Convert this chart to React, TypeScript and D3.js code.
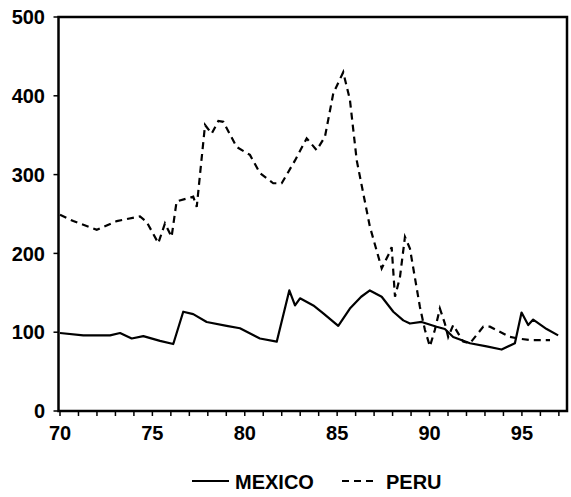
import * as d3 from "d3";

// series (year, index value)
const mexicoYears = [70.0, 71.26, 72.71, 73.25, 73.88, 74.51, 75.41, 76.13, 76.67, 77.21, 77.94, 79.02, 79.74, 80.82, 81.73, 82.41, 82.72, 82.99, 83.71, 84.25, 85.06, 85.69, 86.3, 86.77, 87.41, 88.04, 88.58, 88.94, 89.57, 90.38, 90.83, 91.28, 92.19, 93.09, 93.9, 94.62, 94.98, 95.34, 95.61, 96.34, 96.96];
const mexicoValues = [99, 96, 96, 99, 92, 95, 89, 85, 126, 123, 113, 108, 105, 92, 88, 153, 134, 143, 134, 124, 108, 130, 145, 153, 145, 126, 115, 111, 113, 107, 104, 94, 86, 82, 78, 86, 125, 109, 116, 104, 96];

const peruYears = [70.0, 70.72, 71.99, 73.07, 74.33, 74.69, 75.32, 75.68, 76.04, 76.31, 77.21, 77.4, 77.85, 78.21, 78.57, 78.84, 79.56, 80.28, 80.82, 81.54, 82.0, 82.72, 83.35, 83.89, 84.34, 84.79, 85.33, 85.69, 86.06, 86.77, 87.41, 87.77, 87.95, 88.13, 88.4, 88.67, 88.94, 89.48, 89.75, 90.02, 90.29, 90.56, 90.83, 91.01, 91.28, 91.82, 92.19, 92.91, 93.27, 94.35, 94.8, 95.43, 96.52];
const peruValues = [249, 241, 230, 241, 247, 240, 213, 238, 221, 266, 272, 259, 363, 352, 368, 367, 335, 325, 302, 289, 289, 318, 346, 331, 348, 403, 430, 395, 318, 234, 181, 198, 208, 145, 170, 221, 206, 132, 103, 82, 103, 130, 111, 94, 109, 88, 86, 107, 107, 94, 92, 90, 90];

const xTicks = [70, 75, 80, 85, 90, 95];
const xMinorTicks = d3.range(70, 98);
const yTicks = [0, 100, 200, 300, 400, 500];

const seriesNames = ["MEXICO", "PERU"];

const W = 571;
const H = 497;
const font = "'Liberation Sans', Arial, sans-serif";

export default function App() {
  const x = d3.scaleLinear().domain([70, 97.44]).range([60, 567]);
  const y = d3.scaleLinear().domain([0, 500]).range([411, 17]);

  const line = d3
    .line<[number, number]>()
    .x((d) => x(d[0]))
    .y((d) => y(d[1]));

  const mexico = mexicoYears.map((yr, i) => [yr, mexicoValues[i]] as [number, number]);
  const peru = peruYears.map((yr, i) => [yr, peruValues[i]] as [number, number]);

  const left = x.range()[0] - 1.5;
  const right = x.range()[1];

  return (
    <svg
      width={W}
      height={H}
      style={{ position: "absolute", left: 0, top: 0, background: "#fff" }}
    >
      {/* plot frame */}
      <rect
        x={left}
        y={y(500)}
        width={right - left}
        height={y(0) - y(500)}
        fill="none"
        stroke="#000"
        strokeWidth={2.5}
      />

      {/* x ticks */}
      {xMinorTicks.map((t) => (
        <line key={"mx" + t} x1={x(t)} x2={x(t)} y1={y(0)} y2={y(0) + 5} stroke="#000" strokeWidth={1.5} />
      ))}
      {xTicks.map((t) => (
        <text
          key={"xt" + t}
          x={x(t)}
          y={440}
          textAnchor="middle"
          fontFamily={font}
          fontSize={20}
          fontWeight="bold"
        >
          {t}
        </text>
      ))}

      {/* y ticks */}
      {yTicks.map((t) => (
        <g key={"yt" + t}>
          <line x1={left - 5} x2={left} y1={y(t)} y2={y(t)} stroke="#000" strokeWidth={1.5} />
          <text
            x={45}
            y={y(t)}
            dy="0.36em"
            textAnchor="end"
            fontFamily={font}
            fontSize={20}
            fontWeight="bold"
          >
            {t}
          </text>
        </g>
      ))}

      {/* series */}
      <path d={line(mexico) ?? ""} fill="none" stroke="#000" strokeWidth={2.2} strokeLinejoin="round" />
      <path
        d={line(peru) ?? ""}
        fill="none"
        stroke="#000"
        strokeWidth={2.2}
        strokeDasharray="7 5"
      />

      {/* legend */}
      <line x1={192} x2={229} y1={481} y2={481} stroke="#000" strokeWidth={2} />
      <text x={235} y={489} fontFamily={font} fontSize={20} fontWeight="bold">
        {seriesNames[0]}
      </text>
      <line x1={342} x2={376} y1={481} y2={481} stroke="#000" strokeWidth={2} strokeDasharray="7 5" />
      <text x={386} y={489} fontFamily={font} fontSize={20} fontWeight="bold">
        {seriesNames[1]}
      </text>
    </svg>
  );
}
